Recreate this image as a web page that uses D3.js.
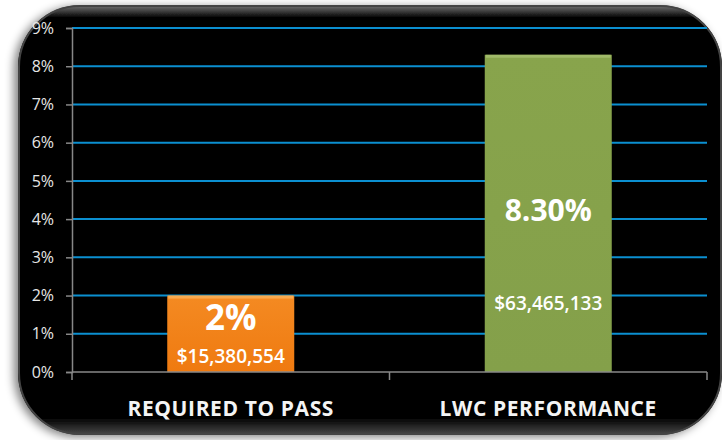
<!DOCTYPE html>
<html>
<head>
<meta charset="utf-8">
<script src="https://cdn.jsdelivr.net/npm/d3@7"></script>
<style>
  body { margin: 0; background: #fff; }
  svg { display: block; }
</style>
</head>
<body>
<svg id="chart"></svg>
<script>
// Chart data
const categories = ["REQUIRED TO PASS", "LWC PERFORMANCE"];
const values = [2, 8.3];
const pctLabels = ["2%", "8.30%"];
const dollarLabels = ["$15,380,554", "$63,465,133"];
const yTicks = [0, 1, 2, 3, 4, 5, 6, 7, 8, 9];

const W = 722, H = 440;
const svg = d3.select("#chart").attr("width", W).attr("height", H);
const margin = {top: 28, right: 15, bottom: 68, left: 72};
const width = W - margin.left - margin.right,
      height = H - margin.top - margin.bottom;

const defs = svg.append("defs");

// panel shadow
const shadow = defs.append("filter").attr("id", "shadow")
  .attr("x", "-10%").attr("y", "-10%").attr("width", "120%").attr("height", "120%");
shadow.append("feGaussianBlur").attr("in", "SourceAlpha").attr("stdDeviation", 5);
shadow.append("feOffset").attr("dx", -4).attr("dy", 2).attr("result", "blur");
shadow.append("feComponentTransfer").append("feFuncA").attr("type", "linear").attr("slope", 0.5);
const merge = shadow.append("feMerge");
merge.append("feMergeNode");
merge.append("feMergeNode").attr("in", "SourceGraphic");

// glossy edge gradient
const gloss = defs.append("linearGradient").attr("id", "gloss")
  .attr("x1", 0).attr("y1", 0).attr("x2", 0).attr("y2", 1);
gloss.append("stop").attr("offset", "0%").attr("stop-color", "#777");
gloss.append("stop").attr("offset", "3%").attr("stop-color", "#000");
gloss.append("stop").attr("offset", "96%").attr("stop-color", "#000");
gloss.append("stop").attr("offset", "100%").attr("stop-color", "#4a4a4a");

// bar gradients
function barGrad(id, top, mid) {
  const g = defs.append("linearGradient").attr("id", id)
    .attr("x1", 0).attr("y1", 0).attr("x2", 0).attr("y2", 1);
  g.append("stop").attr("offset", "0%").attr("stop-color", top);
  g.append("stop").attr("offset", "100%").attr("stop-color", mid);
}
barGrad("gOrange", "#f48a22", "#ef7a10");
barGrad("gGreen", "#88a44c", "#84a04a");
const fills = ["url(#gOrange)", "url(#gGreen)"];
const bevels = ["#f8b05a", "#a6bf70"];

// Background panel
svg.append("rect")
  .attr("x", 18).attr("y", 5)
  .attr("width", 704).attr("height", 430)
  .attr("rx", 62).attr("ry", 62)
  .attr("fill", "url(#gloss)")
  .attr("filter", "url(#shadow)");
svg.append("rect")
  .attr("x", 19).attr("y", 6)
  .attr("width", 702).attr("height", 428)
  .attr("rx", 61).attr("ry", 61)
  .attr("fill", "none")
  .attr("stroke", "#444")
  .attr("stroke-width", 2);

const g = svg.append("g")
  .attr("transform", "translate(" + margin.left + "," + margin.top + ")");

// Scales
const x = d3.scaleBand().domain(categories).range([0, width]).paddingInner(0.6).paddingOuter(0.3);
const y = d3.scaleLinear().domain([0, 9]).range([height, 0]);

// Gridlines
g.append("g")
  .selectAll("line")
  .data(yTicks.filter(d => d > 0))
  .join("line")
  .attr("x1", 0).attr("x2", width)
  .attr("y1", d => y(d)).attr("y2", d => y(d))
  .attr("stroke", "#0b8fd0")
  .attr("stroke-width", 2);

// Y axis
const yAxis = g.append("g")
  .call(d3.axisLeft(y).tickValues(yTicks).tickFormat(d => d + "%").tickSize(6).tickPadding(12));
yAxis.select(".domain").attr("stroke", "#888").attr("stroke-width", 1.5);
yAxis.selectAll(".tick line").attr("stroke", "#888").attr("stroke-width", 1.5);
yAxis.selectAll("text")
  .attr("fill", "#e6e6e6")
  .style("font-family", "'Open Sans', sans-serif")
  .style("font-size", "16px");

// Bars
g.selectAll(".bar")
  .data(values)
  .join("rect")
  .attr("class", "bar")
  .attr("x", (d, i) => x(categories[i]))
  .attr("y", d => y(d))
  .attr("width", x.bandwidth())
  .attr("height", d => y(0) - y(d))
  .attr("fill", (d, i) => fills[i]);

// top bevel highlight
g.selectAll(".bevel")
  .data(values)
  .join("rect")
  .attr("class", "bevel")
  .attr("x", (d, i) => x(categories[i]) + 1)
  .attr("y", d => y(d))
  .attr("width", x.bandwidth() - 2)
  .attr("height", 3)
  .attr("fill", (d, i) => bevels[i])
  .attr("opacity", 0.8);

// X axis
const xAxisLine = g.append("g").attr("transform", "translate(0," + height + ")");
xAxisLine.append("line")
  .attr("x1", 0).attr("x2", width)
  .attr("stroke", "#888").attr("stroke-width", 1.5);
xAxisLine.selectAll(".xt")
  .data([0, width / 2, width])
  .join("line")
  .attr("x1", d => d).attr("x2", d => d)
  .attr("y1", 0).attr("y2", 8)
  .attr("stroke", "#888").attr("stroke-width", 1.5);
xAxisLine.selectAll(".xl")
  .data(categories)
  .join("text")
  .attr("x", d => x(d) + x.bandwidth() / 2)
  .attr("y", 44)
  .attr("text-anchor", "middle")
  .attr("fill", "#f4f4f4")
  .style("font-family", "'Open Sans', sans-serif")
  .style("font-weight", "bold")
  .style("font-size", "21px")
  .style("letter-spacing", "0.6px")
  .text(d => d);

// Value labels inside bars
const pctY = [y(2) + 34, y(3.95)];
const dollarY = [y(0) - 9, y(1.62)];
const pctSize = ["35px", "30px"];
g.selectAll(".pct")
  .data(pctLabels)
  .join("text")
  .attr("x", (d, i) => x(categories[i]) + x.bandwidth() / 2)
  .attr("y", (d, i) => pctY[i])
  .attr("text-anchor", "middle")
  .attr("fill", "#fff")
  .style("font-family", "'Open Sans', sans-serif")
  .style("font-weight", "bold")
  .style("font-size", (d, i) => pctSize[i])
  .text(d => d);

g.selectAll(".dollar")
  .data(dollarLabels)
  .join("text")
  .attr("x", (d, i) => x(categories[i]) + x.bandwidth() / 2)
  .attr("y", (d, i) => dollarY[i])
  .attr("text-anchor", "middle")
  .attr("fill", "#fff")
  .style("font-family", "'Open Sans', sans-serif")
  .style("font-weight", "600")
  .style("font-size", "19px")
  .text(d => d);
</script>
</body>
</html>
